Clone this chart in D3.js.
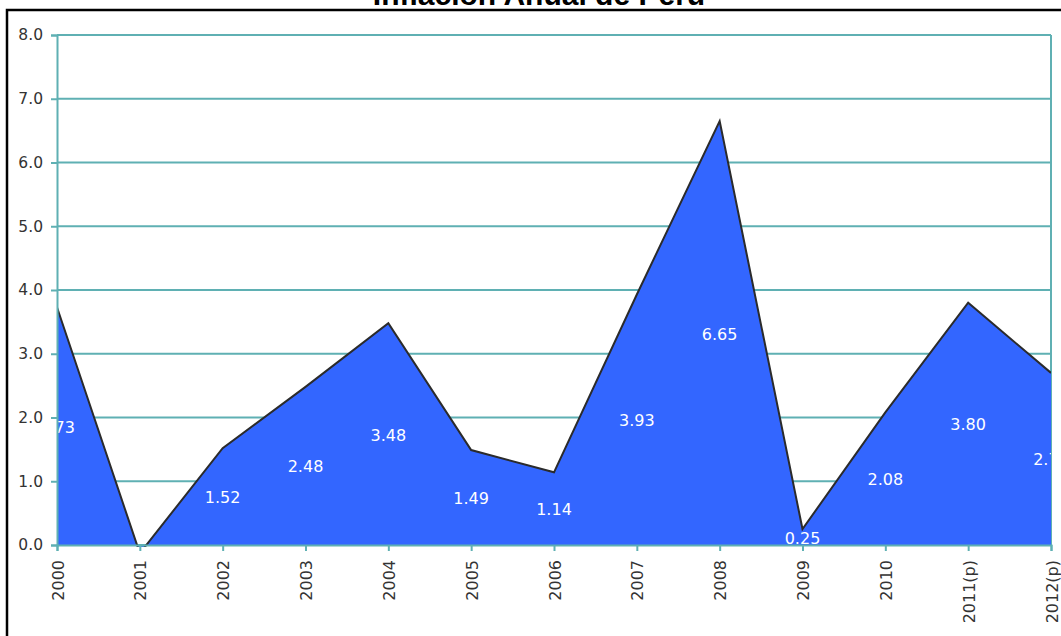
<!DOCTYPE html>
<html>
<head>
<meta charset="utf-8">
<script src="https://cdn.jsdelivr.net/npm/d3@7/dist/d3.min.js"></script>
<style>
  html, body { margin: 0; padding: 0; background: #fff; overflow: hidden; }
  svg { display: block; }
</style>
</head>
<body>
<script>
// Annual inflation figures for Peru (percent)
const years = ["2000", "2001", "2002", "2003", "2004", "2005", "2006", "2007", "2008", "2009", "2010", "2011(p)", "2012(p)"];
const inflation = [3.73, -0.13, 1.52, 2.48, 3.48, 1.49, 1.14, 3.93, 6.65, 0.25, 2.08, 3.80, 2.70];
const yTicks = [0, 1, 2, 3, 4, 5, 6, 7, 8];
const chartTitle = "Inflación Anual de Perú";

const W = 1061, H = 636;
const margin = { left: 57, right: 10, top: 35, bottom: 91 };
const teal = "#5fb0b3";
const font = "'DejaVu Sans', Verdana, sans-serif";

const svg = d3.select("body").append("svg").attr("width", W).attr("height", H);

// outer frame
svg.append("rect")
  .attr("x", 7).attr("y", 10).attr("width", W + 20).attr("height", H + 20)
  .attr("fill", "none").attr("stroke", "#000").attr("stroke-width", 2.5);

// title, sitting partly above the frame
svg.append("text")
  .attr("x", 539).attr("y", 5)
  .attr("text-anchor", "middle")
  .attr("font-family", "Arial, 'Liberation Sans', sans-serif")
  .attr("font-weight", "bold").attr("font-size", 30)
  .attr("fill", "#000")
  .text(chartTitle);

const x = d3.scalePoint().domain(years).range([margin.left, W - margin.right]);
const y = d3.scaleLinear().domain([0, 8]).range([H - margin.bottom, margin.top]);

const data = years.map((yr, i) => ({ year: yr, value: inflation[i] }));

svg.append("clipPath").attr("id", "plot-clip")
  .append("rect")
  .attr("x", x.range()[0]).attr("y", y(8))
  .attr("width", x.range()[1] - x.range()[0]).attr("height", y(0) - y(8) + 2);

// horizontal gridlines
svg.append("g").selectAll("line").data(yTicks).join("line")
  .attr("x1", x.range()[0]).attr("x2", x.range()[1])
  .attr("y1", d => y(d)).attr("y2", d => y(d))
  .attr("stroke", teal).attr("stroke-width", 2);

// right border of plot area
svg.append("line")
  .attr("x1", x.range()[1]).attr("x2", x.range()[1])
  .attr("y1", y(8)).attr("y2", y(0))
  .attr("stroke", teal).attr("stroke-width", 2);

const plot = svg.append("g").attr("clip-path", "url(#plot-clip)");

const area = d3.area().x(d => x(d.year)).y0(y(0)).y1(d => y(d.value));
const line = d3.line().x(d => x(d.year)).y(d => y(d.value));

plot.append("path").datum(data).attr("d", area).attr("fill", "#3366ff");
plot.append("path").datum(data).attr("d", line)
  .attr("fill", "none").attr("stroke", "#2b2b2b").attr("stroke-width", 2);

// value labels placed halfway up each column
plot.append("g").selectAll("text").data(data.filter(d => d.value > 0)).join("text")
  .attr("x", d => x(d.year)).attr("y", d => y(d.value / 2) + 6.5)
  .attr("text-anchor", "middle")
  .attr("font-family", font)
  .attr("font-size", 16).attr("fill", "#fff")
  .text(d => d.value.toFixed(2));

// y axis
const yAxis = d3.axisLeft(y).tickValues(yTicks).tickFormat(d3.format(".1f")).tickSize(6).tickPadding(8);
const gy = svg.append("g").attr("transform", `translate(${x.range()[0]},0)`).call(yAxis);
gy.select(".domain").attr("stroke", teal).attr("stroke-width", 2);
gy.selectAll(".tick line").attr("stroke", teal).attr("stroke-width", 2);
gy.selectAll(".tick text")
  .attr("font-family", font)
  .attr("font-size", 15.5).attr("fill", "#333");

// x axis
const xAxis = d3.axisBottom(x).tickSize(6).tickPadding(0);
const gx = svg.append("g").attr("transform", `translate(0,${y(0)})`).call(xAxis);
gx.select(".domain").attr("stroke", teal).attr("stroke-width", 2);
gx.selectAll(".tick line").attr("stroke", teal).attr("stroke-width", 2);
gx.selectAll(".tick text")
  .attr("font-family", font)
  .attr("font-size", 16).attr("fill", "#333")
  .attr("text-anchor", "end")
  .attr("dy", null)
  .attr("transform", "translate(6,15) rotate(-90)")
  .attr("x", 0).attr("y", 0);
</script>
</body>
</html>
